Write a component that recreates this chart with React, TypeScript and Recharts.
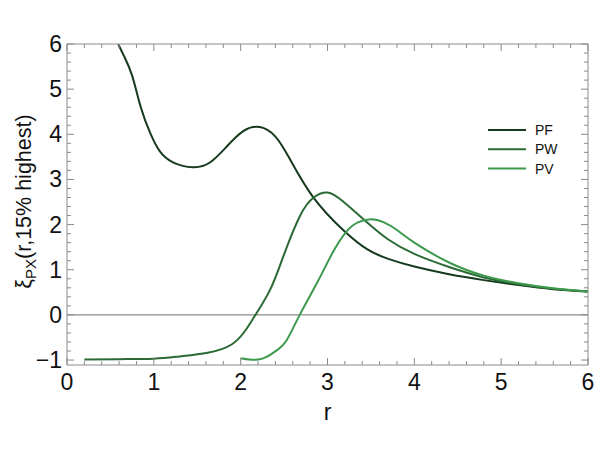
import React from 'react';
import { LineChart, Line, XAxis, YAxis, ReferenceLine } from 'recharts';

// values: r and xi for each sample
const pfR = [0.59, 0.66, 0.75, 0.85, 0.96, 1.07, 1.22, 1.45, 1.65, 1.84, 2.03, 2.22, 2.4, 2.57, 2.83, 3.18, 3.46, 3.7, 4.0, 4.4, 4.8, 5.2, 5.6, 6.0];
const pfV = [6.0, 5.72, 5.3, 4.6, 4.02, 3.62, 3.38, 3.27, 3.38, 3.73, 4.07, 4.16, 3.95, 3.44, 2.62, 1.88, 1.45, 1.24, 1.07, 0.9, 0.77, 0.66, 0.57, 0.52];

const pwR = [0.2, 0.6, 1.0, 1.3, 1.62, 1.9, 2.06, 2.17, 2.34, 2.49, 2.68, 2.84, 3.0, 3.18, 3.46, 3.7, 4.0, 4.4, 4.8, 5.2, 5.6, 6.0];
const pwV = [-0.99, -0.98, -0.97, -0.92, -0.84, -0.65, -0.33, 0.0, 0.56, 1.29, 2.18, 2.6, 2.71, 2.51, 2.04, 1.67, 1.35, 1.06, 0.83, 0.68, 0.58, 0.52];

const pvR = [2.0, 2.1, 2.2, 2.3, 2.42, 2.53, 2.68, 2.88, 3.06, 3.22, 3.35, 3.5, 3.65, 3.8, 4.0, 4.4, 4.8, 5.2, 5.6, 6.0];
const pvV = [-0.96, -0.99, -0.99, -0.93, -0.78, -0.56, 0.0, 0.71, 1.38, 1.85, 2.05, 2.12, 2.05, 1.88, 1.6, 1.16, 0.87, 0.7, 0.59, 0.52];

const xMajor = [0, 1, 2, 3, 4, 5, 6];
const yMajor = [-1, 0, 1, 2, 3, 4, 5, 6];

const series = [
  { name: 'PF', r: pfR, v: pfV, color: '#163a1d' },
  { name: 'PW', r: pwR, v: pwV, color: '#2b6a35' },
  { name: 'PV', r: pvR, v: pvV, color: '#3d9a4d' },
];

const FRAME = '#8a8a8a';
const FONT = '"Liberation Sans", Arial, sans-serif';

// minor ticks every 0.2 between the majors
function withMinor(major: number[]): number[] {
  const out: number[] = [];
  for (let i = 0; i < major.length - 1; i++) {
    for (let k = 0; k < 5; k++) out.push(Math.round((major[i] + k * 0.2) * 10) / 10);
  }
  out.push(major[major.length - 1]);
  return out;
}
const xTicks = withMinor(xMajor);
const yTicks = withMinor(yMajor);

const isMajor = (v: number) => Math.abs(v - Math.round(v)) < 1e-6;
const fmt = (v: number) => (v < 0 ? `\u2212${Math.abs(v)}` : String(v));

function tickFactory(side: 'bottom' | 'top' | 'left' | 'right') {
  return (props: any) => {
    const { x, y, payload } = props;
    const v = payload.value as number;
    const len = isMajor(v) ? 7 : 4;
    let line;
    if (side === 'bottom') line = <line x1={x} x2={x} y1={y} y2={y - len} stroke={FRAME} />;
    else if (side === 'top') line = <line x1={x} x2={x} y1={y} y2={y + len} stroke={FRAME} />;
    else if (side === 'left') line = <line x1={x} x2={x + len} y1={y} y2={y} stroke={FRAME} />;
    else line = <line x1={x} x2={x - len} y1={y} y2={y} stroke={FRAME} />;
    let label = null;
    if (isMajor(v) && side === 'bottom') {
      label = (
        <text x={x} y={y + 25} textAnchor="middle" fontSize={23} fontFamily={FONT} fill="#111">
          {fmt(v)}
        </text>
      );
    } else if (isMajor(v) && side === 'left') {
      label = (
        <text x={x - 5} y={y + 8} textAnchor="end" fontSize={23} fontFamily={FONT} fill="#111">
          {fmt(v)}
        </text>
      );
    }
    return (
      <g>
        {line}
        {label}
      </g>
    );
  };
}

function YTitle(props: any) {
  const vb = props.viewBox;
  const cx = vb.x - 35;
  const cy = vb.y + vb.height / 2 - 3;
  return (
    <text
      x={cx}
      y={cy}
      transform={`rotate(-90, ${cx}, ${cy})`}
      textAnchor="middle"
      fontSize={21.5}
      fontFamily={FONT}
      fill="#111"
    >
      <tspan>ξ</tspan>
      <tspan fontSize={15} dy={5}>PX</tspan>
      <tspan dy={-5}>(r,15% highest)</tspan>
    </text>
  );
}

function XTitle(props: any) {
  const vb = props.viewBox;
  return (
    <text x={vb.x + vb.width / 2} y={vb.y + 55} textAnchor="middle" fontSize={23} fontFamily={FONT} fill="#111">
      r
    </text>
  );
}

function LegendBox() {
  return (
    <svg
      width={100}
      height={60}
      style={{ position: 'absolute', left: 485, top: 117, overflow: 'visible' }}
    >
      {series.map((s, i) => (
        <g key={s.name}>
          <line x1={3} x2={41} y1={13 + i * 19.3} y2={13 + i * 19.3} stroke={s.color} strokeWidth={2} />
          <text x={50} y={18 + i * 19.3} fontSize={14} fontFamily={FONT} fill="#111">
            {s.name}
          </text>
        </g>
      ))}
    </svg>
  );
}

export default function App() {
  return (
    <div style={{ position: 'absolute', left: 0, top: 0, width: 598, height: 449, background: '#fff' }}>
      <LineChart width={598} height={449} margin={{ top: 43, right: 9, bottom: 83, left: 66 }}>
        <XAxis
          xAxisId="b"
          type="number"
          dataKey="r"
          domain={[0, 6]}
          ticks={xTicks}
          interval={0}
          height={1}
          tickSize={0}
          tickMargin={0}
          stroke={FRAME}
          tick={tickFactory('bottom')}
          allowDataOverflow
          label={<XTitle />}
        />
        <XAxis
          xAxisId="t"
          orientation="top"
          type="number"
          dataKey="r"
          domain={[0, 6]}
          ticks={xTicks}
          interval={0}
          height={1}
          tickSize={0}
          tickMargin={0}
          stroke={FRAME}
          tick={tickFactory('top')}
          allowDataOverflow
        />
        <YAxis
          yAxisId="l"
          type="number"
          domain={[-1.11, 6]}
          ticks={yTicks}
          interval={0}
          width={1}
          tickSize={0}
          tickMargin={0}
          stroke={FRAME}
          tick={tickFactory('left')}
          allowDataOverflow
          label={<YTitle />}
        />
        <YAxis
          yAxisId="r"
          orientation="right"
          type="number"
          domain={[-1.11, 6]}
          ticks={yTicks}
          interval={0}
          width={1}
          tickSize={0}
          tickMargin={0}
          stroke={FRAME}
          tick={tickFactory('right')}
          allowDataOverflow
        />
        <ReferenceLine xAxisId="b" yAxisId="l" y={0} stroke="#6e6e6e" strokeWidth={1} />
        {series.map((s) => (
          <Line
            key={s.name}
            xAxisId="b"
            yAxisId="l"
            name={s.name}
            data={s.r.map((r, i) => ({ r, v: s.v[i] }))}
            dataKey="v"
            type="natural"
            stroke={s.color}
            strokeWidth={2}
            dot={false}
            activeDot={false}
            isAnimationActive={false}
          />
        ))}
      </LineChart>
      <LegendBox />
    </div>
  );
}
